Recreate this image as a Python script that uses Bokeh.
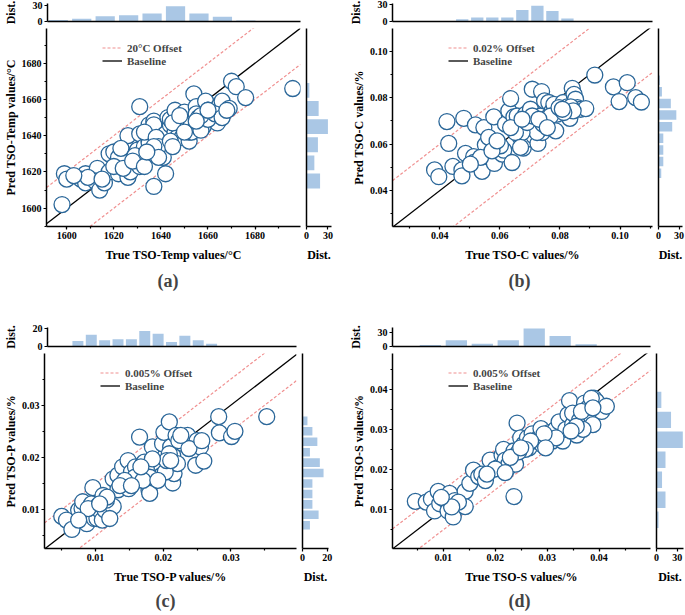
from bokeh.plotting import figure
from bokeh.layouts import row, column
from bokeh.models import Range1d, SingleIntervalTicker, FixedTicker, PrintfTickFormatter, Title
from bokeh.embed import file_html
from bokeh.resources import INLINE

# ---------------- data ----------------
A_true = [1598, 1599, 1600, 1608, 1606, 1608, 1613, 1612, 1614, 1616,
          1618, 1618, 1622, 1620, 1624, 1625, 1626, 1626, 1627, 1630,
          1631, 1631, 1631, 1633, 1635, 1635, 1637, 1637, 1637, 1635,
          1641, 1641, 1641, 1642, 1642, 1643, 1644, 1644, 1646, 1646,
          1647, 1648, 1649, 1650, 1651, 1652, 1653, 1654, 1655, 1655,
          1656, 1657, 1658, 1659, 1660, 1662, 1664, 1665, 1666, 1669,
          1670, 1672, 1676, 1696, 1622, 1623, 1629, 1633, 1638, 1639,
          1644, 1645, 1652, 1653, 1657, 1660, 1663, 1609, 1603, 1615,
          1620, 1624, 1628, 1633, 1637, 1648, 1650, 1657, 1666, 1668,
          1660, 1639, 1634, 1645, 1655]
A_pred = [1602, 1619, 1616, 1619, 1616, 1614, 1622, 1615, 1610, 1614,
          1630, 1620, 1619, 1631, 1625, 1634, 1640, 1617, 1620, 1632,
          1641, 1656, 1623, 1634, 1637, 1646, 1648, 1646, 1612, 1636,
          1640, 1631, 1628, 1619, 1641, 1650, 1646, 1649, 1654, 1642,
          1639, 1648, 1639, 1653, 1645, 1637, 1647, 1663, 1656, 1652,
          1650, 1647, 1645, 1659, 1654, 1651, 1647, 1657, 1659, 1655,
          1670, 1667, 1661, 1666, 1628, 1633, 1629, 1642, 1639, 1634,
          1637, 1647, 1642, 1642, 1643, 1649, 1652, 1617, 1618, 1616,
          1623, 1622, 1626, 1623, 1634, 1651, 1642, 1651, 1650, 1654,
          1654, 1628, 1631, 1634, 1648]

B_true = [0.0383, 0.0397, 0.0424, 0.0430, 0.0444, 0.0474, 0.0474, 0.0480, 0.0486, 0.0513,
          0.0513, 0.0519, 0.0541, 0.0547, 0.0552, 0.0563, 0.0569, 0.0580, 0.0582, 0.0608,
          0.0613, 0.0619, 0.0630, 0.0636, 0.0641, 0.0647, 0.0658, 0.0663, 0.0669, 0.0678,
          0.0686, 0.0691, 0.0697, 0.0702, 0.0708, 0.0713, 0.0719, 0.0727, 0.0736, 0.0739,
          0.0741, 0.0749, 0.0752, 0.0758, 0.0763, 0.0774, 0.0780, 0.0786, 0.0791, 0.0811,
          0.0824, 0.0833, 0.0841, 0.0847, 0.0852, 0.0858, 0.0869, 0.0886, 0.0916, 0.0978,
          0.0997, 0.1024, 0.1052, 0.1071, 0.0724, 0.0744, 0.0836, 0.0844, 0.0674, 0.0652,
          0.0602, 0.0636, 0.0691, 0.0708, 0.0769, 0.0797, 0.0813, 0.0536, 0.0574, 0.0502,
          0.0674, 0.0730, 0.0758, 0.0808, 0.0669, 0.0591]
B_pred = [0.0489, 0.0460, 0.0697, 0.0603, 0.0504, 0.0489, 0.0464, 0.0711, 0.0560, 0.0546,
          0.0521, 0.0683, 0.0483, 0.0671, 0.0597, 0.0629, 0.0557, 0.0717, 0.0517, 0.0557,
          0.0574, 0.0686, 0.0743, 0.0796, 0.0521, 0.0717, 0.0721, 0.0674, 0.0629, 0.0583,
          0.0729, 0.0621, 0.0671, 0.0750, 0.0836, 0.0636, 0.0679, 0.0603, 0.0721, 0.0826,
          0.0650, 0.0786, 0.0700, 0.0714, 0.0779, 0.0743, 0.0771, 0.0657, 0.0729, 0.0779,
          0.0760, 0.0711, 0.0840, 0.0814, 0.0793, 0.0757, 0.0750, 0.0753, 0.0897, 0.0846,
          0.0783, 0.0864, 0.0800, 0.0781, 0.0650, 0.0686, 0.0760, 0.0743, 0.0650, 0.0650,
          0.0593, 0.0671, 0.0693, 0.0721, 0.0721, 0.0757, 0.0736, 0.0543, 0.0571, 0.0514,
          0.0707, 0.0707, 0.0671, 0.0750, 0.0586, 0.0614]

C_true = [0.0050, 0.0057, 0.0065, 0.0075, 0.0080, 0.0081, 0.0087, 0.0093, 0.0094, 0.0096,
          0.0098, 0.0102, 0.0104, 0.0106, 0.0110, 0.0111, 0.0114, 0.0126, 0.0126, 0.0133,
          0.0133, 0.0140, 0.0148, 0.0149, 0.0153, 0.0159, 0.0160, 0.0165, 0.0167, 0.0170,
          0.0172, 0.0179, 0.0180, 0.0184, 0.0187, 0.0189, 0.0192, 0.0194, 0.0198, 0.0199,
          0.0201, 0.0209, 0.0211, 0.0214, 0.0214, 0.0216, 0.0219, 0.0221, 0.0228, 0.0236,
          0.0248, 0.0250, 0.0255, 0.0260, 0.0282, 0.0283, 0.0301, 0.0306, 0.0353, 0.0121,
          0.0116, 0.0158, 0.0175, 0.0203, 0.0209, 0.0205, 0.0223, 0.0184, 0.0143, 0.0136,
          0.0180, 0.0089, 0.0075, 0.0117, 0.0170, 0.0238, 0.0257, 0.0153, 0.0192, 0.0211,
          0.0226, 0.0167, 0.0106]
C_pred = [0.0087, 0.0080, 0.0062, 0.0099, 0.0102, 0.0115, 0.0073, 0.0092, 0.0111, 0.0142,
          0.0083, 0.0083, 0.0108, 0.0099, 0.0080, 0.0127, 0.0099, 0.0106, 0.0159, 0.0138,
          0.0166, 0.0182, 0.0194, 0.0140, 0.0172, 0.0182, 0.0159, 0.0239, 0.0169, 0.0188,
          0.0191, 0.0137, 0.0131, 0.0220, 0.0175, 0.0185, 0.0182, 0.0162, 0.0166, 0.0226,
          0.0248, 0.0268, 0.0220, 0.0204, 0.0151, 0.0169, 0.0242, 0.0188, 0.0227, 0.0242,
          0.0185, 0.0232, 0.0220, 0.0193, 0.0278, 0.0247, 0.0240, 0.0250, 0.0278, 0.0083,
          0.0118, 0.0162, 0.0178, 0.0172, 0.0207, 0.0194, 0.0232, 0.0197, 0.0156, 0.0146,
          0.0162, 0.0102, 0.0080, 0.0124, 0.0156, 0.0217, 0.0232, 0.0146, 0.0156, 0.0194,
          0.0242, 0.0182, 0.0111]

D_true = [0.0046, 0.0067, 0.0077, 0.0083, 0.0090, 0.0093, 0.0103, 0.0109, 0.0112, 0.0119,
          0.0122, 0.0135, 0.0142, 0.0142, 0.0151, 0.0158, 0.0168, 0.0174, 0.0181, 0.0190,
          0.0206, 0.0213, 0.0216, 0.0219, 0.0223, 0.0226, 0.0236, 0.0236, 0.0239, 0.0242,
          0.0249, 0.0255, 0.0262, 0.0265, 0.0271, 0.0278, 0.0284, 0.0288, 0.0291, 0.0297,
          0.0304, 0.0310, 0.0316, 0.0323, 0.0330, 0.0336, 0.0340, 0.0343, 0.0349, 0.0349,
          0.0357, 0.0362, 0.0372, 0.0379, 0.0385, 0.0388, 0.0390, 0.0395, 0.0405, 0.0414,
          0.0385, 0.0369, 0.0356, 0.0317, 0.0294, 0.0268, 0.0258, 0.0245, 0.0229, 0.0200,
          0.0184, 0.0129, 0.0116, 0.0096, 0.0366, 0.0346, 0.0297, 0.0249, 0.0219, 0.0388]
D_pred = [0.0121, 0.0119, 0.0127, 0.0097, 0.0146, 0.0115, 0.0125, 0.0097, 0.0141, 0.0082,
          0.0123, 0.0115, 0.0146, 0.0108, 0.0166, 0.0199, 0.0183, 0.0189, 0.0173, 0.0224,
          0.0206, 0.0237, 0.0251, 0.0224, 0.0202, 0.0214, 0.0247, 0.0133, 0.0214, 0.0317,
          0.0280, 0.0264, 0.0280, 0.0255, 0.0290, 0.0272, 0.0280, 0.0303, 0.0262, 0.0272,
          0.0293, 0.0272, 0.0301, 0.0320, 0.0272, 0.0301, 0.0338, 0.0373, 0.0313, 0.0342,
          0.0287, 0.0323, 0.0367, 0.0355, 0.0334, 0.0313, 0.0379, 0.0371, 0.0346, 0.0359,
          0.0379, 0.0301, 0.0309, 0.0280, 0.0290, 0.0272, 0.0251, 0.0245, 0.0231, 0.0202,
          0.0189, 0.0119, 0.0107, 0.0131, 0.0346, 0.0297, 0.0255, 0.0255, 0.0193, 0.0355]

# marginal histograms (bin centres and counts)
A_top_bins = [1596, 1606, 1616, 1626, 1636, 1646, 1656, 1666, 1676]
A_top_counts = [3, 5, 10, 12, 15, 29, 15, 9, 2]
A_right_bins = [1665, 1655, 1645, 1635, 1625, 1615]
A_right_counts = [4, 17, 30, 16, 11, 19]

B_top_bins = [0.0475, 0.0525, 0.0575, 0.0625, 0.0675, 0.0725, 0.0775, 0.0825, 0.0875]
B_top_counts = [4, 7, 7, 7, 20, 27, 18, 5, 1]
B_right_bins = [0.0875, 0.0825, 0.0775, 0.0725, 0.0675, 0.0625, 0.0575, 0.0525, 0.0475]
B_right_counts = [2, 5, 18, 26, 20, 7, 7, 7, 4]

C_top_bins = [0.007, 0.009, 0.011, 0.013, 0.015, 0.017, 0.019, 0.021, 0.023, 0.025, 0.027]
C_top_counts = [6, 13, 7, 8, 8, 17, 14, 5, 12, 7, 3]
C_right_bins = [0.027, 0.025, 0.023, 0.021, 0.019, 0.017, 0.015, 0.013, 0.011, 0.009, 0.007]
C_right_counts = [4, 8, 12, 6, 14, 17, 8, 8, 8, 13, 6]

D_top_bins = [0.0075, 0.0125, 0.0175, 0.0225, 0.0275, 0.0325, 0.0375]
D_top_counts = [3, 13, 6, 13, 38, 22, 5]
D_right_bins = [0.0375, 0.0325, 0.0275, 0.0225, 0.0175, 0.0125, 0.0075]
D_right_counts = [7, 21, 38, 13, 8, 13, 3]

# ---------------- styling ----------------
FONT = "Liberation Serif"
EDGE = "#2b6799"
HIST = "#aac7e5"
OFFC = "#f09090"


def style_axis(ax):
    ax.axis_line_width = 1.5
    ax.axis_line_color = "black"
    ax.major_tick_line_width = 1.2
    ax.minor_tick_line_width = 1.2
    ax.major_tick_in = 0
    ax.major_tick_out = 3
    ax.minor_tick_in = 0
    ax.minor_tick_out = 2
    ax.major_label_standoff = 2
    ax.major_label_text_font = FONT
    ax.major_label_text_font_style = "bold"
    ax.major_label_text_font_size = "10px"
    ax.major_label_text_color = "black"
    ax.axis_label_text_font = FONT
    ax.axis_label_text_font_style = "bold"
    ax.axis_label_text_font_size = "12px"
    ax.axis_label_text_color = "black"


def blank_axis(ax):
    ax.ticker = FixedTicker(ticks=[], minor_ticks=[])
    ax.major_label_text_font_size = "0px"
    ax.major_tick_out = 0
    ax.major_tick_in = 0
    ax.minor_tick_out = 0
    ax.minor_tick_in = 0
    ax.major_label_standoff = 0
    ax.axis_line_width = 1.5
    ax.axis_line_color = "black"


def base_fig(w, h, xr, yr, bl, br, bt, bb):
    p = figure(width=w, height=h, x_range=xr, y_range=yr, output_backend="svg",
               toolbar_location=None, min_border_left=bl, min_border_right=br,
               min_border_top=bt, min_border_bottom=bb)
    p.outline_line_color = None
    p.xgrid.visible = False
    p.ygrid.visible = False
    return p


def main_fig(tx, py, xr, yr, step, fmt, off, off_label, xlabel, ylabel, tag, tag_left,
             tag_standoff, w, h, bl, bt, bb, frame_h):
    p = base_fig(w, h, xr, yr, bl, 3, bt, bb)
    xs = [xr.start, xr.end]
    p.line(xs, [v + off for v in xs], line_color=OFFC, line_dash="3 2", line_width=1.2,
           legend_label=off_label)
    p.line(xs, [v - off for v in xs], line_color=OFFC, line_dash="3 2", line_width=1.2)
    p.line(xs, xs, line_color="black", line_width=1.3, legend_label="Baseline")
    p.scatter(tx, py, size=16, marker="circle", fill_color="white", line_color=EDGE,
              line_width=1.3)
    for ax in (p.xaxis[0], p.yaxis[0]):
        style_axis(ax)
        ax.ticker = SingleIntervalTicker(interval=step, num_minor_ticks=2)
        ax.formatter = PrintfTickFormatter(format=fmt)
    p.xaxis.axis_label = xlabel
    p.yaxis.axis_label = ylabel
    p.xaxis.axis_label_standoff = 6
    p.yaxis.axis_label_standoff = 1
    lg = p.legend[0]
    lg.background_fill_alpha = 0
    lg.border_line_color = None
    lg.padding = 0
    lg.spacing = 0
    lg.margin = 0
    lg.glyph_width = 20
    lg.glyph_height = 13
    lg.label_height = 13
    lg.label_standoff = 5
    lg.label_text_font = FONT
    lg.label_text_font_style = "bold"
    lg.label_text_font_size = "11px"
    lg.location = (56, frame_h - 13 - 26)
    p.add_layout(Title(text=tag, align="left", offset=tag_left, standoff=tag_standoff,
                       text_font=FONT, text_font_style="bold", text_font_size="18px"),
                 "below")
    return p


def top_hist(xr, bins, counts, bw, ymax, ticks, w, h, bl, br, bt, bb):
    p = base_fig(w, h, xr, Range1d(0, ymax), bl, br, bt, bb)
    p.vbar(x=bins, top=counts, bottom=0, width=bw * 0.82, fill_color=HIST, line_color=None)
    style_axis(p.yaxis[0])
    p.yaxis.ticker = FixedTicker(ticks=ticks, minor_ticks=[])
    p.yaxis.axis_label = "Dist."
    p.yaxis.axis_label_standoff = 12
    blank_axis(p.xaxis[0])
    return p


def right_hist(yr, bins, counts, bh, xmax, ticks, w, h, br, bt, bb):
    p = base_fig(w, h, Range1d(0, xmax), yr, 3, br, bt, bb)
    p.hbar(y=bins, right=counts, left=0, height=bh * 0.82, fill_color=HIST, line_color=None)
    style_axis(p.xaxis[0])
    p.xaxis.ticker = FixedTicker(ticks=ticks, minor_ticks=[])
    p.xaxis.axis_label = "Dist."
    p.xaxis.axis_label_standoff = 6
    blank_axis(p.yaxis[0])
    return p


# ---------------- panels ----------------
xA, yA = Range1d(1591.4, 1699.3), Range1d(1589.9, 1699.1)
xB, yB = Range1d(0.0243, 0.1108), Range1d(0.0246, 0.1097)
xC, yC = Range1d(0.00245, 0.0397), Range1d(0.00255, 0.0399)
xD, yD = Range1d(0.0002, 0.0499), Range1d(0.0003, 0.0491)

H1, BB1, FH1 = 297, 98, 198
H2, BB2, FH2 = 262, 66, 195

topA = top_hist(xA, A_top_bins, A_top_counts, 10, 34, [0, 30], 340, 27, 41, 40, 3, 6)
topB = top_hist(xB, B_top_bins, B_top_counts, 0.005, 31, [0, 30], 345, 27, 52, 33, 3, 6)
mainA = main_fig(A_true, A_pred, xA, yA, 20, "%.0f", 20, "20°C Offset",
                 "True TSO-Temp values/°C", "Pred TSO-Temp values/°C", "(a)", 111, 9,
                 303, H1, 41, 1, BB1, FH1)
rhA = right_hist(yA, A_right_bins, A_right_counts, 10, 35, [0, 30], 37, H1, 9, 1, BB1)
mainB = main_fig(B_true, B_pred, xB, yB, 0.02, "%.2f", 0.02, "0.02% Offset",
                 "True TSO-C values/%", "Pred TSO-C values/%", "(b)", 116, 9,
                 315, H1, 52, 1, BB1, FH1)
rhB = right_hist(yB, B_right_bins, B_right_counts, 0.005, 35, [0, 30], 30, H1, 3, 1, BB1)

topC = top_hist(xC, C_top_bins, C_top_counts, 0.002, 21, [0, 20], 340, 28, 41, 44, 3, 6)
topD = top_hist(xD, D_top_bins, D_top_counts, 0.005, 40, [0, 30], 345, 28, 52, 35, 3, 6)
mainC = main_fig(C_true, C_pred, xC, yC, 0.01, "%.2f", 0.005, "0.005% Offset",
                 "True TSO-P values/%", "Pred TSO-P values/%", "(c)", 111, 5,
                 299, H2, 41, 1, BB2, FH2)
rhC = right_hist(yC, C_right_bins, C_right_counts, 0.002, 21, [0, 20], 41, H2, 12, 1, BB2)
mainD = main_fig(D_true, D_pred, xD, yD, 0.01, "%.2f", 0.005, "0.005% Offset",
                 "True TSO-S values/%", "Pred TSO-S values/%", "(d)", 116, 5,
                 313, H2, 52, 1, BB2, FH2)
rhD = right_hist(yD, D_right_bins, D_right_counts, 0.005, 39, [0, 30], 32, H2, 2, 1, BB2)

layout = column(row(topA, topB),
                row(mainA, rhA, mainB, rhB),
                row(topC, topD),
                row(mainC, rhC, mainD, rhD))

open("out.html", "w").write(file_html(layout, INLINE))
